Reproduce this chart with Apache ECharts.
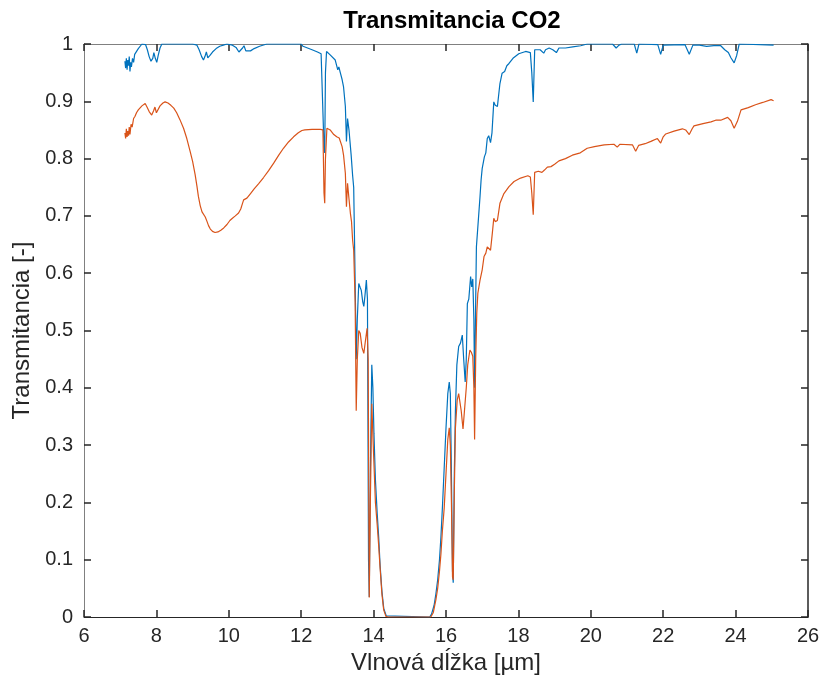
<!DOCTYPE html>
<html>
<head>
<meta charset="utf-8">
<script src="https://cdn.jsdelivr.net/npm/echarts@6/dist/echarts.min.js"></script>
<style>
html,body{margin:0;padding:0;background:#fff;}
#chart{width:823px;height:684px;}
</style>
</head>
<body>
<div id="chart"></div>
<script>
// Blue series (upper curve): wavelength [µm] and transmittance
var wlBlue = [
7.13,7.15,7.17,7.19,7.21,7.23,7.25,7.27,7.29,7.31,
7.34,7.37,7.40,7.45,7.50,7.55,7.60,7.65,7.70,7.75,
7.80,7.85,7.90,7.93,7.97,8.01,8.05,8.10,8.15,8.5,
9.0,9.12,9.18,9.25,9.30,9.34,9.38,9.42,9.48,9.55,
9.65,9.75,9.85,9.95,10.10,10.20,10.28,10.33,10.38,10.42,
10.47,10.52,10.60,10.70,10.85,11.05,11.5,12.0,12.05,12.10,
12.30,12.45,12.55,12.60,12.63,12.65,12.67,12.70,12.80,12.94,
13.01,13.04,13.08,13.13,13.17,13.22,13.25,13.28,13.32,13.38,
13.42,13.45,13.47,13.50,13.52,13.55,13.59,13.63,13.66,13.70,
13.73,13.76,13.80,13.83,13.86,13.88,13.91,13.95,13.98,14.01,
14.05,14.10,14.14,14.18,14.23,14.28,14.35,14.40,15.55,15.60,
15.67,15.72,15.77,15.82,15.86,15.90,15.95,16.00,16.05,16.09,
16.12,16.15,16.18,16.20,16.23,16.26,16.30,16.35,16.40,16.45,
16.49,16.53,16.56,16.59,16.63,16.68,16.71,16.74,16.77,16.79,
16.82,16.84,16.88,16.94,16.97,17.00,17.06,17.10,17.14,17.18,
17.23,17.27,17.32,17.36,17.42,17.49,17.55,17.62,17.68,17.74,
17.85,18.01,18.20,18.33,18.37,18.41,18.45,18.50,18.60,18.70,
18.75,18.85,18.95,19.05,19.12,19.30,19.50,19.72,19.90,20.60,
20.70,20.73,20.78,20.85,21.20,21.27,21.33,21.85,21.93,22.00,
22.60,22.72,22.82,23.00,23.20,23.40,23.59,23.70,23.80,23.87,
23.96,24.03,24.10,25.05];
var tBlue = [
0.970,0.958,0.975,0.955,0.972,0.962,0.978,0.952,0.968,0.960,
0.975,0.968,0.982,0.985,0.992,0.995,1.000,0.997,0.999,0.990,
0.978,0.970,0.975,0.985,0.975,0.968,0.980,0.993,1.000,1.000,
1.000,0.998,0.990,0.978,0.972,0.978,0.986,0.976,0.980,0.986,
0.992,0.996,0.998,1.000,0.998,0.994,0.986,0.983,0.993,0.997,
0.988,0.985,0.988,0.992,0.996,1.000,1.000,1.000,0.996,0.993,
0.990,0.986,0.983,0.983,0.820,0.810,0.950,0.987,0.981,0.972,
0.955,0.960,0.950,0.938,0.925,0.891,0.830,0.870,0.850,0.806,
0.771,0.750,0.670,0.542,0.450,0.520,0.582,0.575,0.570,0.550,
0.542,0.560,0.588,0.555,0.100,0.035,0.250,0.440,0.400,0.320,
0.240,0.180,0.140,0.090,0.045,0.015,0.002,0,0,0.005,
0.020,0.040,0.065,0.100,0.140,0.190,0.260,0.330,0.390,0.410,
0.390,0.250,0.080,0.060,0.250,0.360,0.440,0.472,0.478,0.492,
0.449,0.410,0.450,0.547,0.555,0.594,0.576,0.590,0.520,0.400,
0.550,0.646,0.681,0.734,0.763,0.783,0.803,0.810,0.835,0.840,
0.828,0.845,0.899,0.893,0.891,0.931,0.949,0.952,0.962,0.966,
0.975,0.983,0.987,0.985,0.950,0.899,0.990,0.992,0.990,0.984,
0.990,0.993,0.990,0.985,0.993,0.993,0.995,0.997,1.000,1.000,
0.993,0.990,0.998,1.000,1.000,0.984,1.000,0.999,0.982,0.998,
0.999,0.982,0.998,0.998,0.996,0.997,0.997,0.990,0.985,0.976,
0.967,0.980,1.000,0.998];

// Orange series (lower curve): wavelength [µm] and transmittance
var wlOrange = [
7.13,7.15,7.17,7.19,7.21,7.23,7.25,7.27,7.30,7.33,
7.37,7.41,7.45,7.50,7.55,7.60,7.65,7.69,7.74,7.80,
7.87,7.92,7.96,8.00,8.04,8.10,8.18,8.24,8.32,8.40,
8.48,8.56,8.65,8.75,8.84,8.93,9.00,9.07,9.12,9.16,
9.21,9.26,9.30,9.35,9.40,9.44,9.49,9.55,9.62,9.70,
9.78,9.86,9.95,10.03,10.10,10.18,10.27,10.33,10.37,10.41,
10.45,10.50,10.60,10.70,10.82,10.96,11.10,11.24,11.38,11.51,
11.65,11.79,11.92,12.02,12.06,12.10,12.30,12.53,12.60,12.63,
12.65,12.67,12.71,12.80,12.90,12.98,13.05,13.13,13.17,13.22,
13.25,13.28,13.32,13.36,13.39,13.42,13.45,13.49,13.52,13.55,
13.59,13.63,13.68,13.73,13.77,13.82,13.85,13.88,13.91,13.95,
13.99,14.05,14.10,14.14,14.18,14.23,14.28,14.34,14.40,15.58,
15.65,15.72,15.77,15.82,15.86,15.90,15.95,16.00,16.05,16.09,
16.12,16.15,16.18,16.20,16.23,16.26,16.31,16.35,16.38,16.42,
16.47,16.51,16.56,16.60,16.66,16.70,16.74,16.77,16.79,16.82,
16.85,16.88,16.94,17.00,17.05,17.10,17.14,17.19,17.23,17.28,
17.32,17.36,17.42,17.49,17.60,17.74,17.88,18.06,18.26,18.33,
18.37,18.41,18.45,18.55,18.65,18.72,18.80,18.90,19.00,19.12,
19.30,19.49,19.71,19.90,20.10,20.37,20.64,20.73,20.80,21.15,
21.24,21.32,21.50,21.66,21.84,21.93,22.00,22.07,22.30,22.53,
22.62,22.72,22.80,22.85,23.10,23.32,23.45,23.59,23.78,23.87,
23.96,24.05,24.15,24.35,24.55,24.75,24.98,25.05];
var tOrange = [
0.845,0.835,0.852,0.838,0.848,0.840,0.855,0.842,0.860,0.855,
0.870,0.874,0.880,0.885,0.887,0.892,0.894,0.896,0.890,0.882,
0.876,0.883,0.890,0.880,0.882,0.892,0.897,0.899,0.897,0.893,
0.888,0.880,0.868,0.853,0.835,0.813,0.795,0.772,0.752,0.734,
0.718,0.707,0.704,0.698,0.690,0.683,0.677,0.673,0.671,0.672,
0.675,0.679,0.685,0.692,0.696,0.700,0.705,0.712,0.720,0.728,
0.727,0.731,0.739,0.747,0.756,0.767,0.779,0.792,0.806,0.818,
0.829,0.838,0.845,0.849,0.846,0.850,0.851,0.851,0.850,0.740,
0.722,0.800,0.853,0.850,0.842,0.838,0.836,0.821,0.806,0.774,
0.716,0.757,0.730,0.704,0.690,0.658,0.640,0.550,0.360,0.450,
0.500,0.495,0.470,0.460,0.480,0.504,0.450,0.034,0.200,0.372,
0.300,0.200,0.160,0.125,0.085,0.040,0.012,0.001,0,0,
0.008,0.030,0.050,0.080,0.110,0.150,0.190,0.250,0.310,0.330,
0.300,0.200,0.070,0.065,0.220,0.330,0.379,0.390,0.392,0.360,
0.328,0.360,0.400,0.440,0.466,0.462,0.455,0.400,0.310,0.450,
0.530,0.565,0.588,0.606,0.629,0.635,0.646,0.643,0.640,0.670,
0.696,0.690,0.692,0.722,0.739,0.751,0.760,0.766,0.770,0.768,
0.740,0.702,0.776,0.778,0.776,0.780,0.785,0.786,0.790,0.796,
0.800,0.806,0.810,0.818,0.821,0.824,0.825,0.820,0.825,0.824,
0.813,0.823,0.826,0.830,0.835,0.827,0.838,0.843,0.848,0.852,
0.850,0.842,0.852,0.857,0.861,0.864,0.867,0.867,0.872,0.866,
0.853,0.865,0.885,0.889,0.894,0.898,0.903,0.901];

var xTicks = [6,8,10,12,14,16,18,20,22,24,26];
var yTicks = [0,0.1,0.2,0.3,0.4,0.5,0.6,0.7,0.8,0.9,1];

function pairs(xs, ys){ var out=[]; var n=Math.min(xs.length, ys.length); for(var i=0;i<n;i++){ out.push([xs[i], ys[i]]); } return out; }

var FONT = '"Liberation Sans", Arial, Helvetica, sans-serif';
var dark = '#262626';
var gray = '#808080';

var chart = echarts.init(document.getElementById('chart'), null, {renderer:'canvas'});
chart.setOption({
  animation: false,
  backgroundColor: '#ffffff',
  title: {
    text: 'Transmitancia CO2',
    left: 447, top: 4, textAlign: 'center',
    textStyle: {fontFamily: FONT, fontWeight: 'bold', fontSize: 24, color: '#000'}
  },
  grid: {left: 84, right: 15, top: 44, bottom: 67, containLabel: false},
  xAxis: [{
    type: 'value', min: 6, max: 26, interval: 2, position: 'bottom',
    name: 'Vlnová dĺžka [µm]', nameLocation: 'middle', nameGap: 34,
    nameTextStyle: {fontFamily: FONT, fontSize: 24, color: dark},
    axisLine: {show: true, onZero: false, lineStyle: {color: dark, width: 1}},
    axisTick: {show: true, inside: true, length: 7, lineStyle: {color: dark, width: 1.5}},
    axisLabel: {fontFamily: FONT, fontSize: 20, color: dark, margin: 9,
      formatter: function(v){ return xTicks.indexOf(v) >= 0 ? String(v) : ''; }},
    splitLine: {show: false}
  },{
    type: 'value', min: 6, max: 26, interval: 2, position: 'top',
    axisLine: {show: true, onZero: false, lineStyle: {color: gray, width: 1}},
    axisTick: {show: true, inside: true, length: 7, lineStyle: {color: dark, width: 1.5}},
    axisLabel: {show: false}, splitLine: {show: false}
  }],
  yAxis: [{
    type: 'value', min: 0, max: 1, interval: 0.1, position: 'left',
    name: 'Transmitancia [-]', nameLocation: 'middle', nameGap: 50,
    nameTextStyle: {fontFamily: FONT, fontSize: 24, color: dark},
    axisLine: {show: true, onZero: false, lineStyle: {color: gray, width: 1}},
    axisTick: {show: true, inside: true, length: 7, lineStyle: {color: dark, width: 1.5}},
    axisLabel: {fontFamily: FONT, fontSize: 20, color: dark, margin: 11,
      formatter: function(v){ var r = Math.round(v*10)/10; return yTicks.indexOf(r) >= 0 ? String(r) : ''; }},
    splitLine: {show: false}
  },{
    type: 'value', min: 0, max: 1, interval: 0.1, position: 'right',
    axisLine: {show: true, onZero: false, lineStyle: {color: dark, width: 1.5}},
    axisTick: {show: true, inside: true, length: 7, lineStyle: {color: dark, width: 1.5}},
    axisLabel: {show: false}, splitLine: {show: false}
  }],
  series: [{
    type: 'line', name: 'blue', xAxisIndex: 0, yAxisIndex: 0,
    data: pairs(wlBlue, tBlue), showSymbol: false, symbol: 'none',
    lineStyle: {color: '#0072BD', width: 1.2}, z: 2
  },{
    type: 'line', name: 'orange', xAxisIndex: 0, yAxisIndex: 0,
    data: pairs(wlOrange, tOrange), showSymbol: false, symbol: 'none',
    lineStyle: {color: '#D95319', width: 1.2}, z: 3
  }]
});
</script>
</body>
</html>
